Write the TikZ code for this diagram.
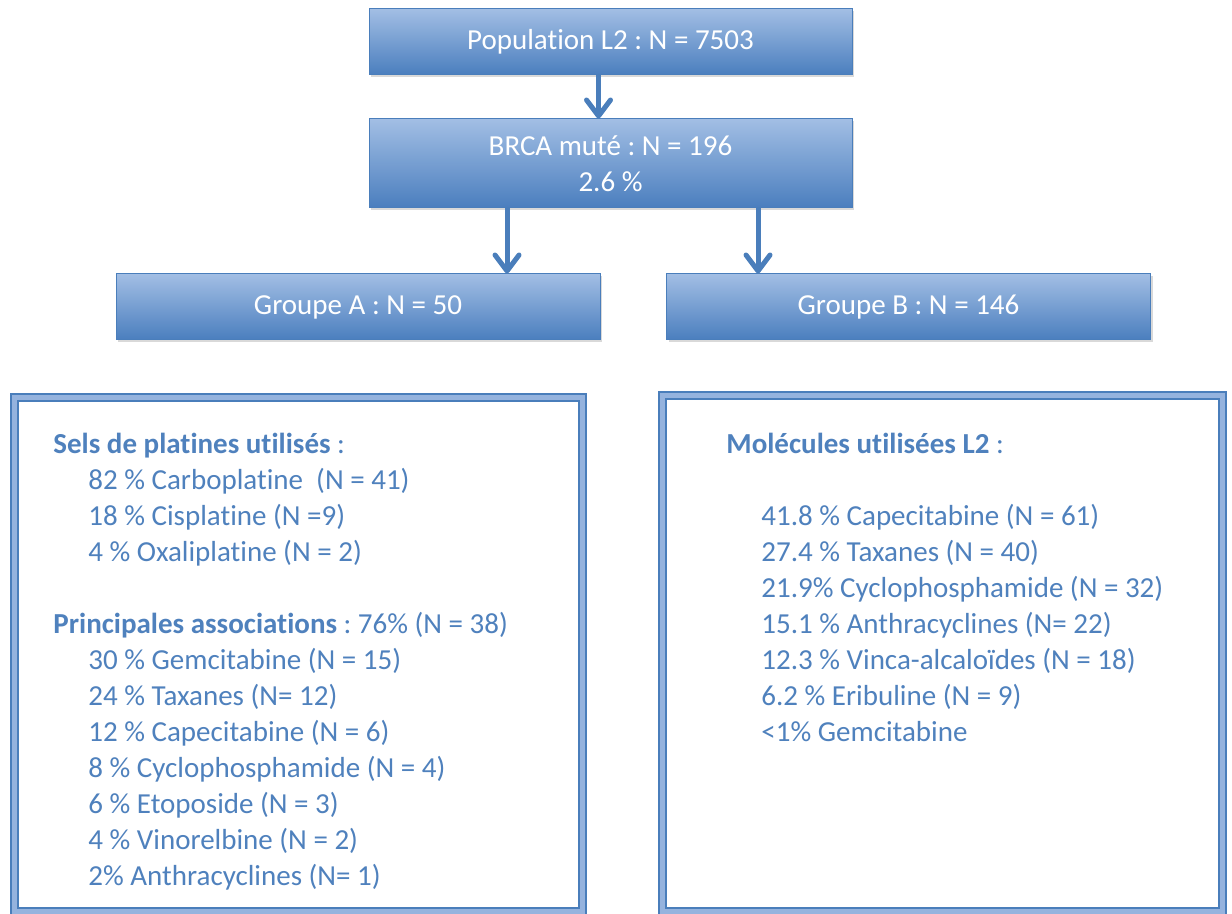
\documentclass[tikz,border=0pt]{standalone}
\usepackage{fontspec}
\setmainfont{Carlito}[Ligatures=NoCommon]
\usetikzlibrary{positioning,shadows,arrows.meta}

\definecolor{boxtop}{HTML}{A2BEE4}
\definecolor{boxbot}{HTML}{4A7EBE}
\definecolor{boxline}{HTML}{4A7EBB}
\definecolor{txtblue}{HTML}{4F81BD}
\definecolor{bandblue}{HTML}{95B3DE}

\newcommand{\ind}{\hspace*{17.5pt}}
\frenchspacing

\begin{document}
\begin{tikzpicture}[x=0.5pt,y=-0.5pt,
    every node/.style={font=\fontsize{14.5}{18}\selectfont},
    stepbox/.style={rectangle, draw=boxline, line width=0.5pt, top color=boxtop, bottom color=boxbot, text=white, align=center, minimum height=33pt,
        drop shadow={opacity=0.3, shadow xshift=1.2pt, shadow yshift=-1.2pt}},
    listbox/.style={rectangle, draw=boxline, line width=1pt, double=bandblue, double distance=2.5pt, fill=white,
        drop shadow={opacity=0.25, shadow xshift=1.5pt, shadow yshift=-1.5pt}},
    listtext/.style={anchor=north west, inner sep=0pt, align=left, text=txtblue},
    arr/.style={-{Straight Barb[length=8pt,width=12pt,round]}, line width=2.5pt, draw=boxline}]

    \useasboundingbox (0,0) rectangle (1232,914);

    \node[stepbox, minimum width=241.5pt] (pop) at (610.5,42) {Population L2 : N = 7503};
    \node[stepbox, minimum width=241.5pt, minimum height=44.5pt, below=21.5pt of pop] (brca) {BRCA muté : N = 196\\2.6 \%};

    \node[stepbox, minimum width=242pt, below=32.5pt of brca, xshift=-126.25pt] (grpA) {Groupe A : N = 50};
    \node[stepbox, minimum width=242pt, below=32.5pt of brca, xshift=149pt] (grpB) {Groupe B : N = 146};

    \draw[arr] ([xshift=-6pt]pop.south) -- ([xshift=-6pt]brca.north);
    \draw[arr] ([xshift=-51.75pt]brca.south) -- ([xshift=-51.75pt]brca.south |- grpA.north);
    \draw[arr] ([xshift=73.75pt]brca.south) -- ([xshift=73.75pt]brca.south |- grpB.north);

    % lists under the two groups
    \node[listbox, minimum width=284pt, minimum height=257pt] (leftbox) at (298.5,654.5) {};
    \node[listbox, minimum width=280pt, minimum height=258pt] (rightbox) at (942.5,653.5) {};

    \node[listtext] (lefttxt) at (53,433) {%
        \textbf{Sels de platines utilisés} :\\
        \ind 82 \% Carboplatine~~(N = 41)\\
        \ind 18 \% Cisplatine (N =9)\\
        \ind 4 \% Oxaliplatine (N = 2)\\[18pt]
        \textbf{Principales associations} : 76\% (N = 38)\\
        \ind 30 \% Gemcitabine (N = 15)\\
        \ind 24 \% Taxanes (N= 12)\\
        \ind 12 \% Capecitabine (N = 6)\\
        \ind 8 \% Cyclophosphamide (N = 4)\\
        \ind 6 \% Etoposide (N = 3)\\
        \ind 4 \% Vinorelbine (N = 2)\\
        \ind 2\% Anthracyclines (N= 1)};

    \node[listtext] (righttxt) at (726,433) {%
        \textbf{Molécules utilisées L2} :\\[18pt]
        \ind 41.8 \% Capecitabine (N = 61)\\
        \ind 27.4 \% Taxanes (N = 40)\\
        \ind 21.9\% Cyclophosphamide (N = 32)\\
        \ind 15.1 \% Anthracyclines (N= 22)\\
        \ind 12.3 \% Vinca-alcaloïdes (N = 18)\\
        \ind 6.2 \% Eribuline (N = 9)\\
        \ind <1\% Gemcitabine};
\end{tikzpicture}
\end{document}
